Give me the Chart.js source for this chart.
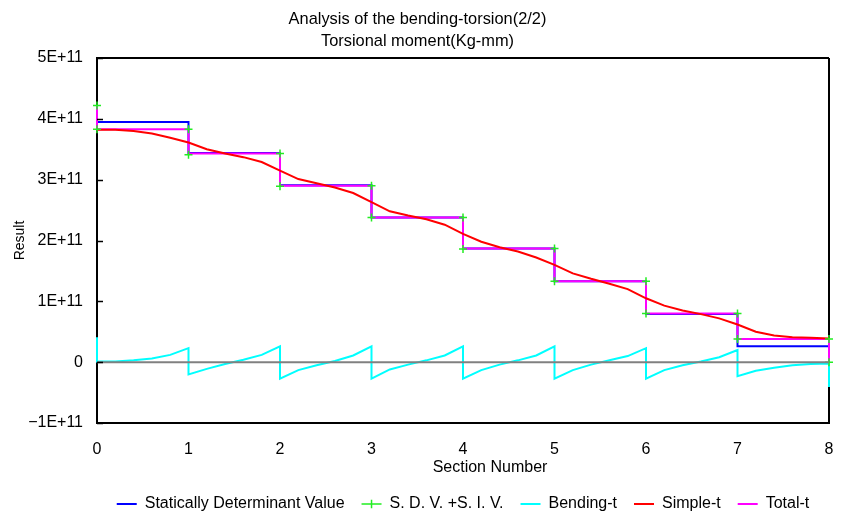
<!DOCTYPE html>
<html>
<head>
<meta charset="utf-8">
<script src="https://cdn.jsdelivr.net/npm/chart.js@4.4.1/dist/chart.umd.min.js"></script>
<style>
  html, body { margin: 0; padding: 0; background: #ffffff; }
  #wrap { width: 841px; height: 517px; }
</style>
</head>
<body>
<div id="wrap"><canvas id="chart" width="841" height="517"></canvas></div>
<script>
// ---- Chart text ----
const titleLines = ['Analysis of the bending-torsion(2/2)', 'Torsional moment(Kg-mm)'];
const xAxisTitle = 'Section Number';
const yAxisTitle = 'Result';
const xTickLabels = ['0', '1', '2', '3', '4', '5', '6', '7', '8'];
const yTickLabels = ['\u22121E+11', '0', '1E+11', '2E+11', '3E+11', '4E+11', '5E+11'];
const seriesNames = ['Statically Determinant Value', 'S. D. V. +S. I. V.', 'Bending-t', 'Simple-t', 'Total-t'];

// ---- Statically Determinant Value (one level per section) ----
const sdvX = [0, 1, 1, 2, 2, 3, 3, 4, 4, 5, 5, 6, 6, 7, 7, 8];
const sdvY = [3.95e11, 3.95e11, 3.44e11, 3.44e11, 2.91e11, 2.91e11, 2.38e11, 2.38e11,
              1.87e11, 1.87e11, 1.33e11, 1.33e11, 0.79e11, 0.79e11, 0.26e11, 0.26e11];

// ---- S.D.V. + S.I.V. (values on both sides of each section boundary) ----
const sumX = [0, 0, 1, 1, 2, 2, 3, 3, 4, 4, 5, 5, 6, 6, 7, 7, 8, 8];
const sumY = [4.22e11, 3.83e11, 3.83e11, 3.41e11, 3.43e11, 2.89e11, 2.90e11, 2.38e11, 2.38e11,
              1.86e11, 1.87e11, 1.33e11, 1.33e11, 0.80e11, 0.80e11, 0.38e11, 0.38e11, 0.0];

// ---- Bending-t ----
const bendX = [0, 0, 0.2, 0.4, 0.6, 0.8, 1,
               1, 1.2, 1.4, 1.6, 1.8, 2,
               2, 2.2, 2.4, 2.6, 2.8, 3,
               3, 3.2, 3.4, 3.6, 3.8, 4,
               4, 4.2, 4.4, 4.6, 4.8, 5,
               5, 5.2, 5.4, 5.6, 5.8, 6,
               6, 6.2, 6.4, 6.6, 6.8, 7,
               7, 7.2, 7.4, 7.6, 7.8, 8, 8];
const bendY = [0.41e11, 0.01e11, 0.01e11, 0.03e11, 0.06e11, 0.12e11, 0.23e11,
               -0.20e11, -0.11e11, -0.03e11, 0.04e11, 0.12e11, 0.26e11,
               -0.27e11, -0.13e11, -0.05e11, 0.02e11, 0.11e11, 0.26e11,
               -0.27e11, -0.12e11, -0.04e11, 0.03e11, 0.11e11, 0.26e11,
               -0.27e11, -0.13e11, -0.04e11, 0.03e11, 0.11e11, 0.26e11,
               -0.27e11, -0.13e11, -0.04e11, 0.03e11, 0.10e11, 0.23e11,
               -0.27e11, -0.13e11, -0.05e11, 0.01e11, 0.08e11, 0.20e11,
               -0.23e11, -0.14e11, -0.09e11, -0.05e11, -0.03e11, -0.02e11, -0.41e11];

// ---- Simple-t ----
const simpleX = [0, 0.2, 0.4, 0.6, 0.8, 1, 1.2, 1.4, 1.6, 1.8, 2, 2.2, 2.4, 2.6, 2.8, 3,
                 3.2, 3.4, 3.6, 3.8, 4, 4.2, 4.4, 4.6, 4.8, 5, 5.2, 5.4, 5.6, 5.8, 6,
                 6.2, 6.4, 6.6, 6.8, 7, 7.2, 7.4, 7.6, 7.8, 8];
const simpleY = [3.82e11, 3.82e11, 3.80e11, 3.76e11, 3.69e11, 3.61e11,
                 3.50e11, 3.43e11, 3.37e11, 3.29e11, 3.15e11,
                 3.01e11, 2.94e11, 2.87e11, 2.78e11, 2.63e11,
                 2.48e11, 2.41e11, 2.35e11, 2.26e11, 2.11e11,
                 1.98e11, 1.89e11, 1.82e11, 1.72e11, 1.60e11,
                 1.46e11, 1.37e11, 1.29e11, 1.20e11, 1.05e11,
                 0.93e11, 0.85e11, 0.79e11, 0.72e11, 0.62e11,
                 0.50e11, 0.44e11, 0.41e11, 0.40e11, 0.39e11];

// ---- Total-t ----
const totalX = [0, 0, 1, 1, 2, 2, 3, 3, 4, 4, 5, 5, 6, 6, 7, 7, 8, 8];
const totalY = [4.22e11, 3.83e11, 3.83e11, 3.43e11, 3.43e11, 2.90e11, 2.90e11, 2.38e11, 2.38e11,
                1.87e11, 1.87e11, 1.33e11, 1.33e11, 0.80e11, 0.80e11, 0.38e11, 0.38e11, 0.0];

const toPoints = (xs, ys) => xs.map((x, i) => ({ x: x, y: ys[i] }));

const FONT = '"Liberation Sans", Arial, sans-serif';

// zero reference line, short inward ticks on the value axis,
// and the category-axis caption placed under sections 4-5
const frameExtras = {
  id: 'frameExtras',
  afterDatasetsDraw(chart) {
    const { ctx, chartArea: a, scales: { y } } = chart;
    const y0 = y.getPixelForValue(0);
    ctx.save();
    ctx.strokeStyle = '#808080';
    ctx.lineWidth = 2;
    ctx.beginPath();
    ctx.moveTo(a.left, y0);
    ctx.lineTo(a.right, y0);
    ctx.stroke();
    ctx.strokeStyle = '#000000';
    ctx.lineWidth = 1.5;
    y.ticks.forEach(t => {
      const py = Math.round(y.getPixelForValue(t.value)) + 0.5;
      ctx.beginPath();
      ctx.moveTo(a.left, py);
      ctx.lineTo(a.left + 6, py);
      ctx.stroke();
    });
    ctx.restore();
  },
  afterDraw(chart) {
    const { ctx, chartArea: a, scales: { x } } = chart;
    ctx.save();
    ctx.fillStyle = '#000000';
    ctx.font = '16px ' + FONT;
    ctx.textAlign = 'center';
    ctx.textBaseline = 'middle';
    ctx.fillText(xAxisTitle, (a.left + a.right) / 2 + 27, x.bottom - 11);
    ctx.restore();
  }
};

const lineSet = (label, xs, ys, color, order) => ({
  label: label,
  data: toPoints(xs, ys),
  borderColor: color,
  backgroundColor: color,
  borderWidth: 2,
  pointRadius: 0,
  pointHoverRadius: 0,
  pointStyle: 'line',
  tension: 0,
  fill: false,
  clip: false,
  order: order
});

new Chart(document.getElementById('chart'), {
  type: 'line',
  data: {
    datasets: [
      lineSet(seriesNames[0], sdvX, sdvY, '#0000ff', 5),
      {
        label: seriesNames[1],
        data: toPoints(sumX, sumY),
        showLine: false,
        borderColor: '#22ee22',
        backgroundColor: '#22ee22',
        pointStyle: 'cross',
        pointRadius: 4,
        pointHoverRadius: 4,
        pointBorderWidth: 1.5,
        borderWidth: 1.5,
        clip: false,
        order: 0
      },
      lineSet(seriesNames[2], bendX, bendY, '#00ffff', 4),
      lineSet(seriesNames[3], simpleX, simpleY, '#ff0000', 1),
      lineSet(seriesNames[4], totalX, totalY, '#ff00ff', 2)
    ]
  },
  options: {
    responsive: false,
    animation: false,
    devicePixelRatio: 1,
    events: [],
    layout: { padding: { left: 6, right: 12, top: 0, bottom: -5 } },
    plugins: {
      title: {
        display: true,
        text: titleLines,
        color: '#000000',
        font: { family: FONT, size: 16.4, weight: 'normal', lineHeight: '22px' },
        padding: { top: 8, bottom: 6 }
      },
      legend: {
        position: 'bottom',
        fullSize: false,
        labels: {
          usePointStyle: true,
          pointStyleWidth: 20,
          boxHeight: 6,
          padding: 17,
          color: '#000000',
          font: { family: FONT, size: 16 },
          sort: (a, b) => a.datasetIndex - b.datasetIndex
        }
      },
      tooltip: { enabled: false }
    },
    scales: {
      x: {
        type: 'linear',
        min: 0,
        max: 8,
        afterFit: s => { s.height = 56; },
        ticks: {
          stepSize: 1,
          padding: 0,
          color: '#000000',
          maxRotation: 0,
          font: { family: FONT, size: 16 },
          callback: (v, i) => xTickLabels[i]
        },
        grid: {
          drawTicks: true,
          tickLength: 17,
          tickColor: 'rgba(0,0,0,0)',
          lineWidth: 2,
          color: c => (c.tick && c.tick.value === 8 ? '#000000' : 'rgba(0,0,0,0)')
        },
        border: { display: true, color: '#000000', width: 2 },
        title: { display: false }
      },
      y: {
        type: 'linear',
        min: -1e11,
        max: 5e11,
        afterFit: s => { s.width = 91; },
        ticks: {
          stepSize: 1e11,
          padding: 14,
          color: '#000000',
          font: { family: FONT, size: 16 },
          callback: (v, i) => yTickLabels[i]
        },
        grid: {
          drawTicks: false,
          lineWidth: 2,
          color: c => (c.tick && c.tick.value === 5e11 ? '#000000' : 'rgba(0,0,0,0)')
        },
        border: { display: true, color: '#000000', width: 2 },
        title: {
          display: true,
          text: yAxisTitle,
          color: '#000000',
          font: { family: FONT, size: 14, lineHeight: 1.2 },
          padding: { top: 6, bottom: 4 }
        }
      }
    }
  },
  plugins: [frameExtras]
});
</script>
</body>
</html>
